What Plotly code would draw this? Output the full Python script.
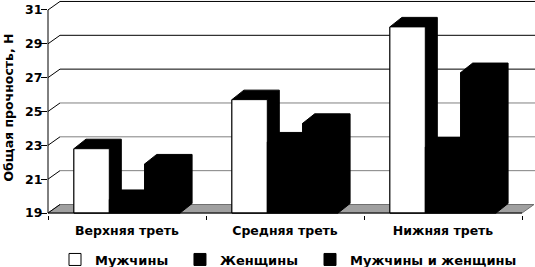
import plotly.graph_objects as go

# ---- data ----
categories = ["Верхняя треть", "Средняя треть", "Нижняя треть"]
series_names = ["Мужчины", "Женщины", "Мужчины и женщины"]
men = [22.8, 25.7, 30.0]
women = [19.8, 23.2, 22.9]
both = [21.9, 24.3, 27.3]
y_ticks = [19, 21, 23, 25, 27, 29, 31]
y_title = "Общая прочность, Н"

# ---- layout / style parameters ----
W, H = 535, 267
ML, MR, MT, MB = 48, 0, 0, 52
PX_CAT = 158.0        # pixels per category
PX_Y = 16.92          # pixels per value unit
Y_MIN = 19
x_range = [-0.5, -0.5 + (W - ML - MR) / PX_CAT]
y_range = [Y_MIN - 2 / PX_Y, Y_MIN - 2 / PX_Y + (H - MT - MB) / PX_Y]
BAR_W = 0.224
DX, DY = 12 / PX_CAT, 9.5 / PX_Y          # bar depth
WDX, WDY = 12 / PX_CAT, 8.5 / PX_Y        # wall depth
FONT = "DejaVu Sans"
legend_ids = ["legend", "legend2", "legend3"]
legend_x = [0.0144, 0.271, 0.538]
LEGEND_Y = -0.207

series = [men, women, both]
front_fill = ["white", "black", "black"]
idx = list(range(len(categories)))

fig = go.Figure()

# 3-D bodies (side + top faces) of every bar, computed from the values
for i, vals in enumerate(series):
    xs, ys = [], []
    for j, v in zip(idx, vals):
        xl = j + (i - 1.5) * BAR_W
        xr = xl + BAR_W
        xs += [xl, xl + DX, xr + DX, xr + DX, xr, xl, xl, None]
        ys += [v, v + DY, v + DY, Y_MIN + DY, Y_MIN, Y_MIN, v, None]
    fig.add_trace(go.Scatter(
        x=xs, y=ys, mode="lines", fill="toself", fillcolor="black",
        line=dict(color="black", width=1), showlegend=False,
        hoverinfo="skip", zorder=0))

# front faces
for i, (name, vals) in enumerate(zip(series_names, series)):
    fig.add_trace(go.Bar(
        x=idx, y=[v - Y_MIN for v in vals], base=Y_MIN, name=name,
        width=BAR_W, offset=(i - 1.5) * BAR_W, legend=legend_ids[i],
        marker=dict(color=front_fill[i], line=dict(color="black", width=1)),
        zorder=1))

shapes = []
# floor
x0, x1 = -0.5, len(categories) - 0.5
shapes.append(dict(type="path", xref="x", yref="y", layer="below",
                   path=f"M{x0},{Y_MIN} L{x1},{Y_MIN} L{x1 + WDX},{Y_MIN + WDY} "
                        f"L{x0 + WDX},{Y_MIN + WDY} Z",
                   fillcolor="#a0a0a0", line=dict(color="#707070", width=1)))
# back-wall gridlines and side-wall diagonals
for v in y_ticks[1:]:
    col = "black" if v >= 27 else "#808080"
    shapes.append(dict(type="line", xref="x", yref="y", layer="below",
                       x0=x0 + WDX, x1=x_range[1] + 0.1, y0=v + WDY, y1=v + WDY,
                       line=dict(color=col, width=1)))
    shapes.append(dict(type="line", xref="x", yref="y", layer="below",
                       x0=x0, x1=x0 + WDX, y0=v, y1=v + WDY,
                       line=dict(color="black", width=1)))
shapes.append(dict(type="line", xref="x", yref="y", layer="below",
                   x0=x0, x1=x0 + WDX, y0=Y_MIN, y1=Y_MIN + WDY,
                   line=dict(color="black", width=1)))
# front floor edge and value axis line
shapes.append(dict(type="line", xref="x", yref="y", layer="above",
                   x0=x0, x1=x1, y0=Y_MIN, y1=Y_MIN,
                   line=dict(color="black", width=1)))
shapes.append(dict(type="line", xref="paper", yref="y", layer="above",
                   x0=0, x1=0, y0=Y_MIN, y1=y_ticks[-1],
                   line=dict(color="black", width=1)))

legend_style = dict(orientation="h", xanchor="left", y=LEGEND_Y, yanchor="middle",
                    font=dict(size=13, weight="bold"), bgcolor="rgba(0,0,0,0)")

fig.update_layout(
    width=W, height=H,
    margin=dict(l=ML, r=MR, t=MT, b=MB, autoexpand=False),
    paper_bgcolor="white", plot_bgcolor="white",
    shapes=shapes,
    barmode="overlay",
    font=dict(family=FONT, size=12, color="black", weight="bold"),
    xaxis=dict(range=x_range, tickmode="array", tickvals=idx, ticktext=categories,
               ticks="", showgrid=False, zeroline=False, showline=False, automargin=False,
               tickfont=dict(size=12.5, weight="bold"), ticklabelstandoff=6,
               minor=dict(tickmode="array", tickvals=[x0 + k for k in range(len(categories) + 1)],
                          ticks="outside", ticklen=4, tickcolor="black", showgrid=False)),
    yaxis=dict(range=y_range, tickmode="array", tickvals=y_ticks,
               ticks="outside", ticklen=6, tickcolor="black", showgrid=False,
               zeroline=False, showline=False, automargin=False,
               tickfont=dict(size=12.5, weight="bold"), ticklabelstandoff=-4,
               title=dict(text=y_title, font=dict(size=12.5, weight="bold"), standoff=8)),
    legend=dict(x=legend_x[0], **legend_style),
    legend2=dict(x=legend_x[1], **legend_style),
    legend3=dict(x=legend_x[2], **legend_style),
    showlegend=True,
)

fig.write_html("out.html", config={"displayModeBar": False},
               post_script="document.body.style.margin='0px';")
